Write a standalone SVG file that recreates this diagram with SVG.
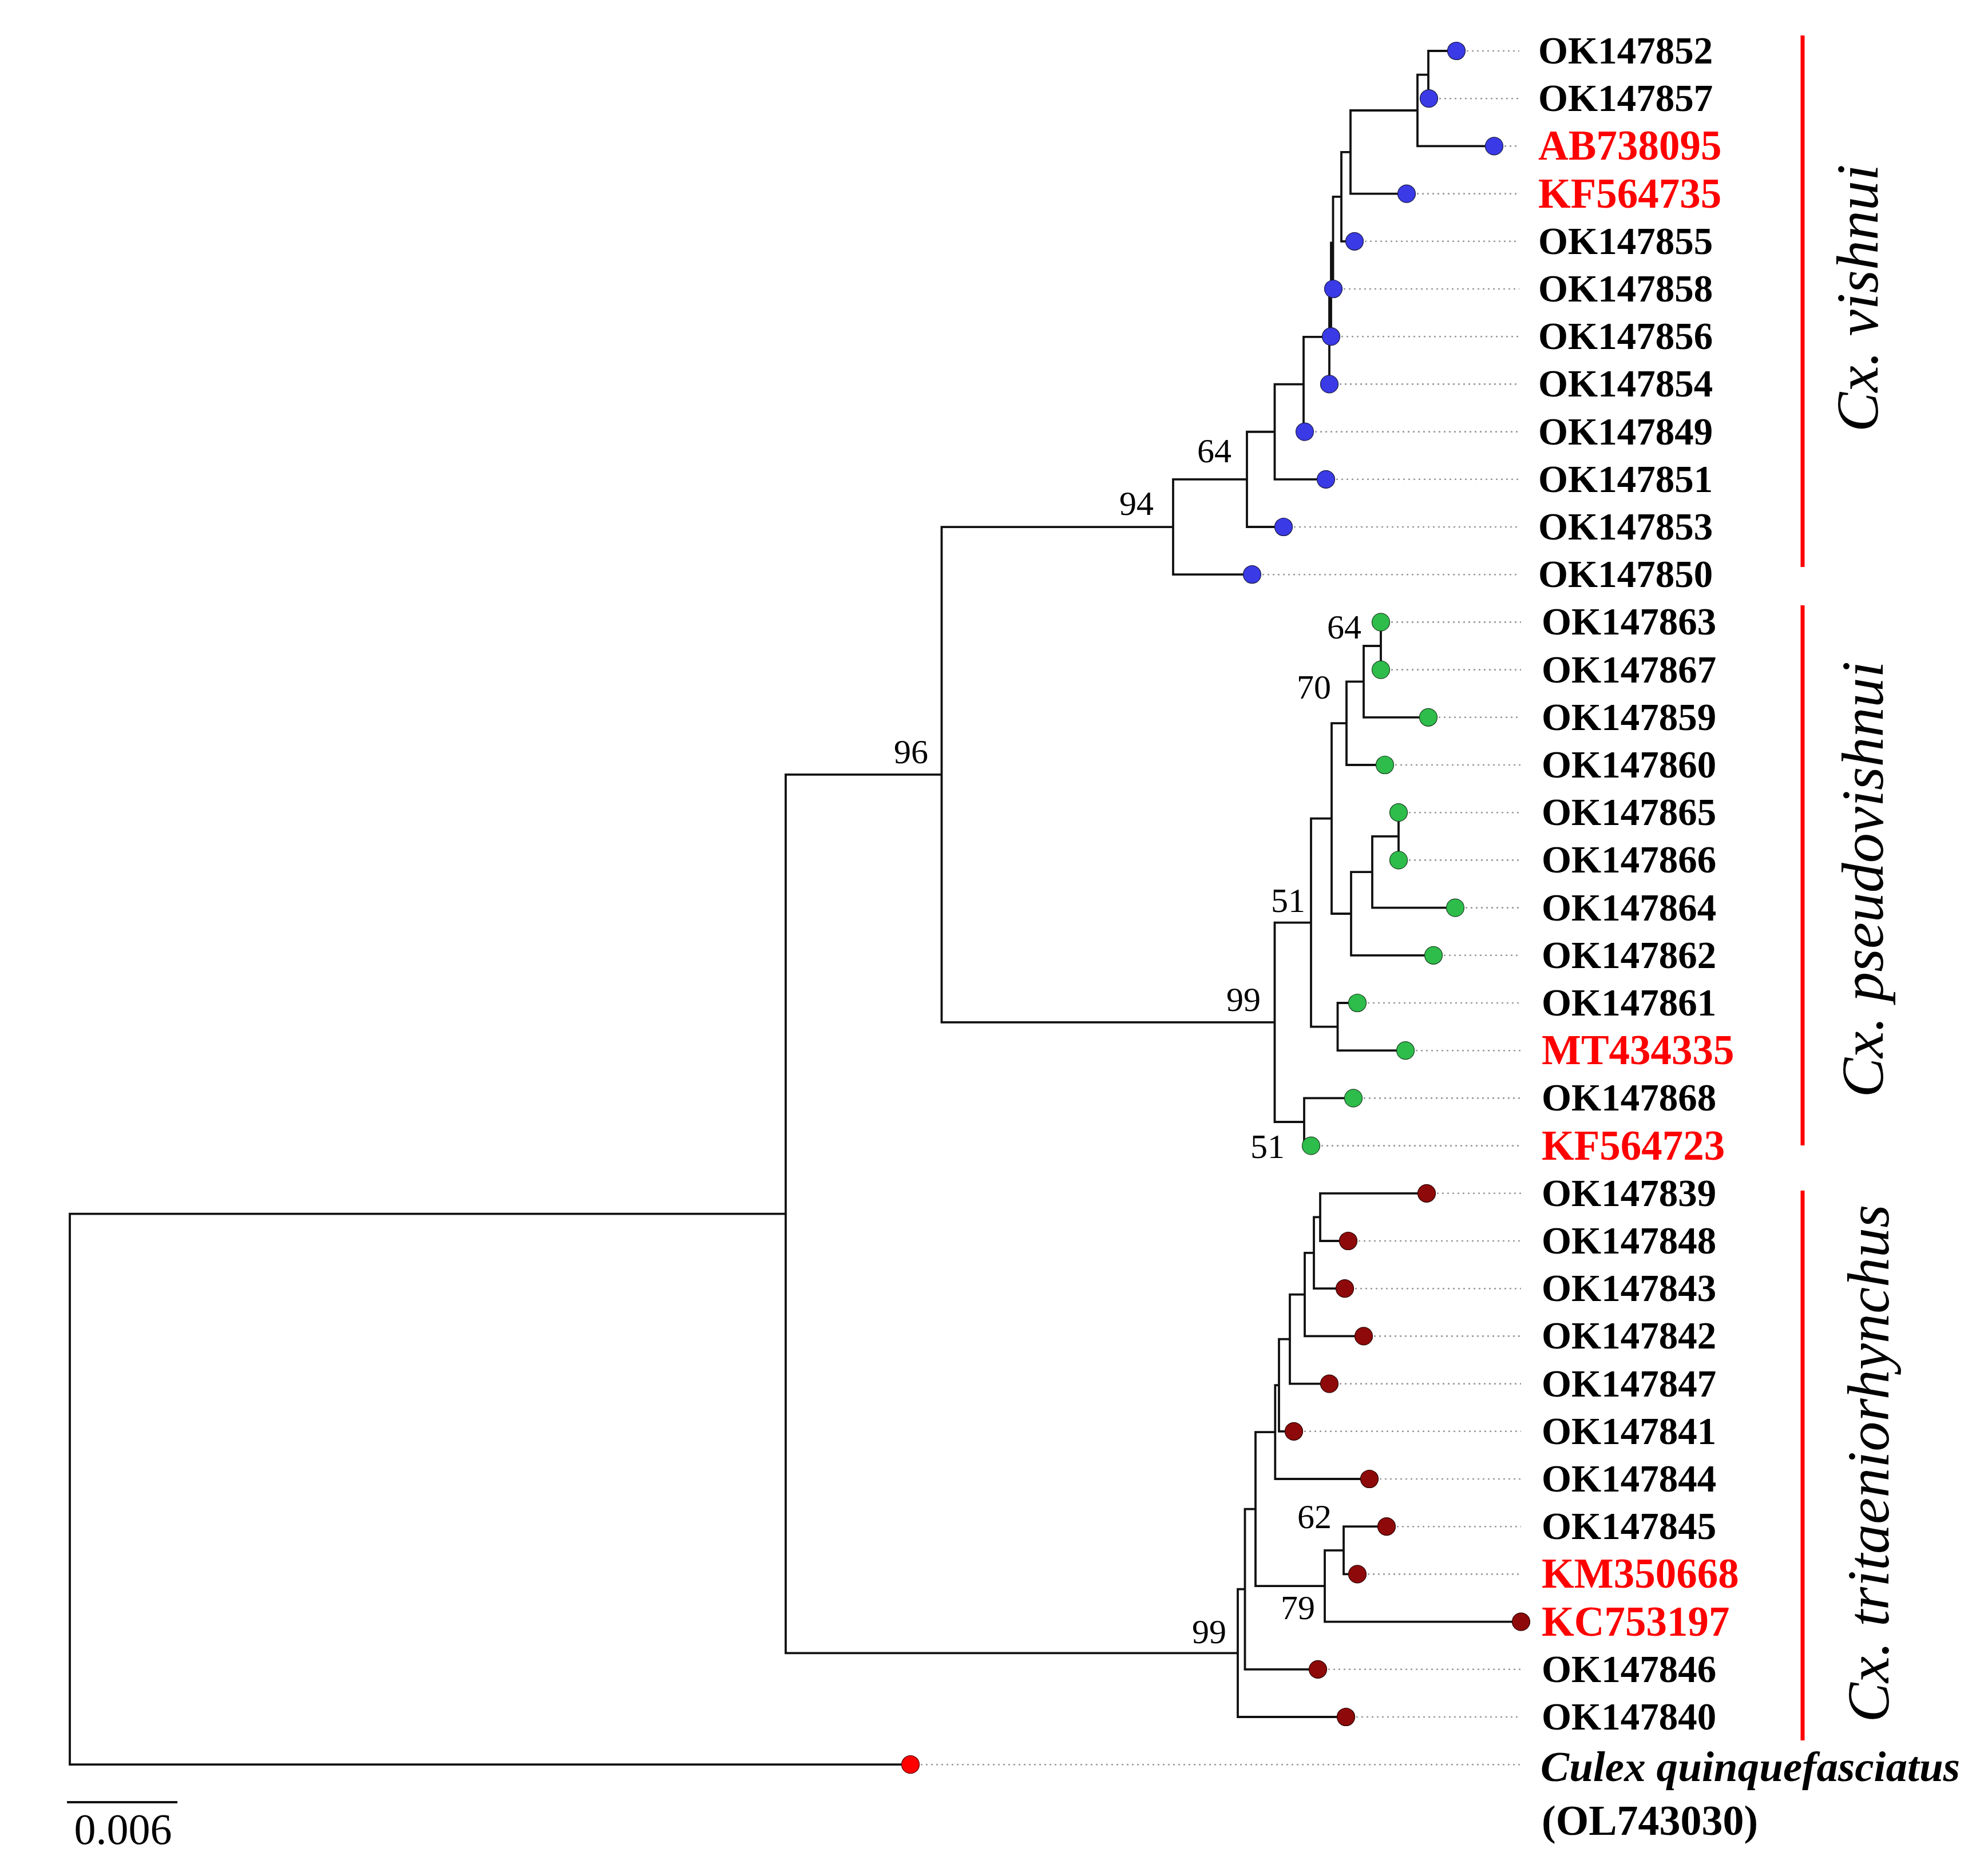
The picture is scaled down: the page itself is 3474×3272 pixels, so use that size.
<svg xmlns="http://www.w3.org/2000/svg" width="3474" height="3272" viewBox="0 0 3474 3272">
<style>
.br{fill:none;stroke:#111;stroke-width:3.8;stroke-linecap:square}
.ld{fill:none;stroke:#9a9a9a;stroke-width:2.6;stroke-dasharray:3 6}
.lb{font-family:"Liberation Serif","Times New Roman",serif;font-weight:bold;font-size:67px;fill:#000}
.lr{font-family:"Liberation Serif","Times New Roman",serif;font-weight:bold;font-size:73px;fill:#ff0000}
.bs{font-family:"Liberation Serif","Times New Roman",serif;font-size:60px;fill:#000;text-anchor:end}
.cl{font-family:"Liberation Serif","Times New Roman",serif;font-style:italic;font-size:104px;fill:#000;text-anchor:middle}
.bar{stroke:#ff0000;stroke-width:7}
.db{fill:#3a3ae6;stroke:#1a1a40;stroke-width:1.2}
.dg{fill:#2ebd4b;stroke:#1a4020;stroke-width:1.2}
.dr{fill:#8e0a0a;stroke:#2a0000;stroke-width:1.2}
.dx{fill:#ff0000;stroke:#550000;stroke-width:1.2}
</style>
<rect width="3474" height="3272" fill="#fff"/>
<g id="connectors">
<path class="br" d="M122,2121.6V3084.2M122,2121.6H1373M122,3084.2H1591
M1373,1353.9V2889.35M1373,1353.9H1645.5M1373,2889.35H2163
M1645.5,921.05V1786.8M1645.5,921.05H2050M1645.5,1786.8H2227.5
M2050,837.9V1004.2M2050,837.9H2179M2050,1004.2H2188
M2179,754.75V921M2179,754.75H2227.5M2179,921H2243
M2227.5,671.7V837.8M2227.5,671.7H2278M2227.5,837.8H2317
M2278,588.85V754.6M2278,588.85H2323M2278,754.6H2280
M2323,506.3V671.4M2323,506.3H2326
M2326,424.4V588.2M2326,424.4H2329.5
M2329.5,343.8V505M2329.5,343.8H2344
M2344,265.8V421.8M2344,265.8H2360M2344,421.8H2367
M2360,193V338.6M2360,193H2477M2360,338.6H2458
M2477,130.6V255.4M2477,130.6H2496M2477,255.4H2611
M2496,89V172.2M2496,89H2545
M2227.5,1612.6V1961M2227.5,1612.6H2291M2227.5,1961H2279
M2279,1919.4V2002.6M2279,1919.4H2365M2279,2002.6H2291
M2291,1430.6V1794.6M2291,1430.6H2327M2291,1794.6H2337.5
M2337.5,1753V1836.2M2337.5,1753H2372M2337.5,1836.2H2456
M2327,1264.2V1597M2327,1264.2H2353M2327,1597H2361
M2361,1524.2V1669.8M2361,1524.2H2398M2361,1669.8H2505
M2398,1461.8V1586.6M2398,1461.8H2444M2398,1586.6H2543
M2444,1420.2V1503.4
M2353,1191.4V1337M2353,1191.4H2383M2353,1337H2420
M2383,1129V1253.8M2383,1129H2413M2383,1253.8H2496
M2413,1087.4V1170.6
M2163,2777.7V3001M2163,2777.7H2175.5M2163,3001H2352
M2175.5,2637.65V2917.8M2175.5,2637.65H2194M2175.5,2917.8H2303
M2194,2503.1V2772.2M2194,2503.1H2228.3M2194,2772.2H2315
M2315,2709.8V2834.6M2315,2709.8H2348M2315,2834.6H2658
M2348,2668.2V2751.4M2348,2668.2H2423M2348,2751.4H2372
M2228.3,2421.2V2585M2228.3,2421.2H2235M2228.3,2585H2393
M2235,2340.6V2501.8M2235,2340.6H2254M2235,2501.8H2261
M2254,2262.6V2418.6M2254,2262.6H2280M2254,2418.6H2323
M2280,2189.8V2335.4M2280,2189.8H2296M2280,2335.4H2383
M2296,2127.4V2252.2M2296,2127.4H2307M2296,2252.2H2350
M2307,2085.8V2169M2307,2085.8H2493M2307,2169H2356"/>
<path class="ld" d="M2563,89H2655M2515,172.2H2655M2629,255.4H2655M2476,338.6H2655M2385,421.8H2655M2348,505H2655M2344,588.2H2655M2341,671.4H2655M2298,754.6H2655M2335,837.8H2655M2261,921H2655M2206,1004.2H2655
M2431,1087.4H2658M2431,1170.6H2658M2514,1253.8H2658M2438,1337H2658M2462,1420.2H2658M2462,1503.4H2658M2561,1586.6H2658M2523,1669.8H2658M2390,1753H2658M2474,1836.2H2658M2383,1919.4H2658M2309,2002.6H2658
M2511,2085.8H2658M2374,2169H2658M2368,2252.2H2658M2401,2335.4H2658M2341,2418.6H2658M2279,2501.8H2658M2411,2585H2658M2441,2668.2H2658M2390,2751.4H2658M2321,2917.8H2658M2370,3001H2658
M1609,3084.2H2658"/>
</g>
<g id="bootstrap">
<text class="bs" x="1622" y="1334">96</text>
<text class="bs" x="2016" y="900">94</text>
<text class="bs" x="2152" y="808">64</text>
<text class="bs" x="2203" y="1767">99</text>
<text class="bs" x="2281" y="1594">51</text>
<text class="bs" x="2326" y="1221">70</text>
<text class="bs" x="2379" y="1116">64</text>
<text class="bs" x="2245" y="2024">51</text>
<text class="bs" x="2143" y="2872">99</text>
<text class="bs" x="2298" y="2830">79</text>
<text class="bs" x="2327" y="2671">62</text>
</g>
<g id="leaf-OK147852"><circle class="db" cx="2545" cy="89" r="15.5"/><text class="lb" x="2688" y="111">OK147852</text></g>
<g id="leaf-OK147857"><circle class="db" cx="2497" cy="172.2" r="15.5"/><text class="lb" x="2688" y="194.2">OK147857</text></g>
<g id="leaf-AB738095"><circle class="db" cx="2611" cy="255.4" r="15.5"/><text class="lr" x="2688" y="279.4">AB738095</text></g>
<g id="leaf-KF564735"><circle class="db" cx="2458" cy="338.6" r="15.5"/><text class="lr" x="2688" y="362.6">KF564735</text></g>
<g id="leaf-OK147855"><circle class="db" cx="2367" cy="421.8" r="15.5"/><text class="lb" x="2688" y="443.8">OK147855</text></g>
<g id="leaf-OK147858"><circle class="db" cx="2330" cy="505" r="15.5"/><text class="lb" x="2688" y="527">OK147858</text></g>
<g id="leaf-OK147856"><circle class="db" cx="2326" cy="588.2" r="15.5"/><text class="lb" x="2688" y="610.2">OK147856</text></g>
<g id="leaf-OK147854"><circle class="db" cx="2323" cy="671.4" r="15.5"/><text class="lb" x="2688" y="693.4">OK147854</text></g>
<g id="leaf-OK147849"><circle class="db" cx="2280" cy="754.6" r="15.5"/><text class="lb" x="2688" y="776.6">OK147849</text></g>
<g id="leaf-OK147851"><circle class="db" cx="2317" cy="837.8" r="15.5"/><text class="lb" x="2688" y="859.8">OK147851</text></g>
<g id="leaf-OK147853"><circle class="db" cx="2243" cy="921" r="15.5"/><text class="lb" x="2688" y="943">OK147853</text></g>
<g id="leaf-OK147850"><circle class="db" cx="2188" cy="1004.2" r="15.5"/><text class="lb" x="2688" y="1026.2">OK147850</text></g>
<g id="leaf-OK147863"><circle class="dg" cx="2413" cy="1087.4" r="15.5"/><text class="lb" x="2694" y="1109.4">OK147863</text></g>
<g id="leaf-OK147867"><circle class="dg" cx="2413" cy="1170.6" r="15.5"/><text class="lb" x="2694" y="1192.6">OK147867</text></g>
<g id="leaf-OK147859"><circle class="dg" cx="2496" cy="1253.8" r="15.5"/><text class="lb" x="2694" y="1275.8">OK147859</text></g>
<g id="leaf-OK147860"><circle class="dg" cx="2420" cy="1337" r="15.5"/><text class="lb" x="2694" y="1359">OK147860</text></g>
<g id="leaf-OK147865"><circle class="dg" cx="2444" cy="1420.2" r="15.5"/><text class="lb" x="2694" y="1442.2">OK147865</text></g>
<g id="leaf-OK147866"><circle class="dg" cx="2444" cy="1503.4" r="15.5"/><text class="lb" x="2694" y="1525.4">OK147866</text></g>
<g id="leaf-OK147864"><circle class="dg" cx="2543" cy="1586.6" r="15.5"/><text class="lb" x="2694" y="1608.6">OK147864</text></g>
<g id="leaf-OK147862"><circle class="dg" cx="2505" cy="1669.8" r="15.5"/><text class="lb" x="2694" y="1691.8">OK147862</text></g>
<g id="leaf-OK147861"><circle class="dg" cx="2372" cy="1753" r="15.5"/><text class="lb" x="2694" y="1775">OK147861</text></g>
<g id="leaf-MT434335"><circle class="dg" cx="2456" cy="1836.2" r="15.5"/><text class="lr" x="2694" y="1860.2">MT434335</text></g>
<g id="leaf-OK147868"><circle class="dg" cx="2365" cy="1919.4" r="15.5"/><text class="lb" x="2694" y="1941.4">OK147868</text></g>
<g id="leaf-KF564723"><circle class="dg" cx="2291" cy="2002.6" r="15.5"/><text class="lr" x="2694" y="2026.6">KF564723</text></g>
<g id="leaf-OK147839"><circle class="dr" cx="2493" cy="2085.8" r="15.5"/><text class="lb" x="2694" y="2107.8">OK147839</text></g>
<g id="leaf-OK147848"><circle class="dr" cx="2356" cy="2169" r="15.5"/><text class="lb" x="2694" y="2191">OK147848</text></g>
<g id="leaf-OK147843"><circle class="dr" cx="2350" cy="2252.2" r="15.5"/><text class="lb" x="2694" y="2274.2">OK147843</text></g>
<g id="leaf-OK147842"><circle class="dr" cx="2383" cy="2335.4" r="15.5"/><text class="lb" x="2694" y="2357.4">OK147842</text></g>
<g id="leaf-OK147847"><circle class="dr" cx="2323" cy="2418.6" r="15.5"/><text class="lb" x="2694" y="2440.6">OK147847</text></g>
<g id="leaf-OK147841"><circle class="dr" cx="2261" cy="2501.8" r="15.5"/><text class="lb" x="2694" y="2523.8">OK147841</text></g>
<g id="leaf-OK147844"><circle class="dr" cx="2393" cy="2585" r="15.5"/><text class="lb" x="2694" y="2607">OK147844</text></g>
<g id="leaf-OK147845"><circle class="dr" cx="2423" cy="2668.2" r="15.5"/><text class="lb" x="2694" y="2690.2">OK147845</text></g>
<g id="leaf-KM350668"><circle class="dr" cx="2372" cy="2751.4" r="15.5"/><text class="lr" x="2694" y="2775.4">KM350668</text></g>
<g id="leaf-KC753197"><circle class="dr" cx="2658" cy="2834.6" r="15.5"/><text class="lr" x="2694" y="2858.6">KC753197</text></g>
<g id="leaf-OK147846"><circle class="dr" cx="2303" cy="2917.8" r="15.5"/><text class="lb" x="2694" y="2939.8">OK147846</text></g>
<g id="leaf-OK147840"><circle class="dr" cx="2352" cy="3001" r="15.5"/><text class="lb" x="2694" y="3023">OK147840</text></g>
<g id="leaf-OL743030"><circle class="dx" cx="1591" cy="3084.2" r="15.5"/>
<text x="2692" y="3113" font-family="Liberation Serif, Times New Roman, serif" font-weight="bold" font-style="italic" font-size="74" textLength="733" lengthAdjust="spacingAndGlyphs">Culex quinquefasciatus</text>
<text x="2694" y="3207" font-family="Liberation Serif, Times New Roman, serif" font-weight="bold" font-size="74">(OL743030)</text></g>
<g id="clade-vishnui"><line class="bar" x1="3150" y1="62" x2="3150" y2="991"/><text class="cl" transform="translate(3281,521) rotate(-90)">Cx. vishnui</text></g>
<g id="clade-pseudovishnui"><line class="bar" x1="3150" y1="1058" x2="3150" y2="2002"/><text class="cl" transform="translate(3290,1537) rotate(-90)">Cx. pseudovishnui</text></g>
<g id="clade-tritaeniorhynchus"><line class="bar" x1="3150" y1="2081" x2="3150" y2="3042"/><text class="cl" transform="translate(3300,2558) rotate(-90)">Cx. tritaeniorhynchus</text></g>
<g id="scale-bar"><line x1="117" y1="3150" x2="310" y2="3150" stroke="#111" stroke-width="4"/><text x="215" y="3223" font-family="Liberation Serif, Times New Roman, serif" font-size="76" text-anchor="middle">0.006</text></g>
</svg>
